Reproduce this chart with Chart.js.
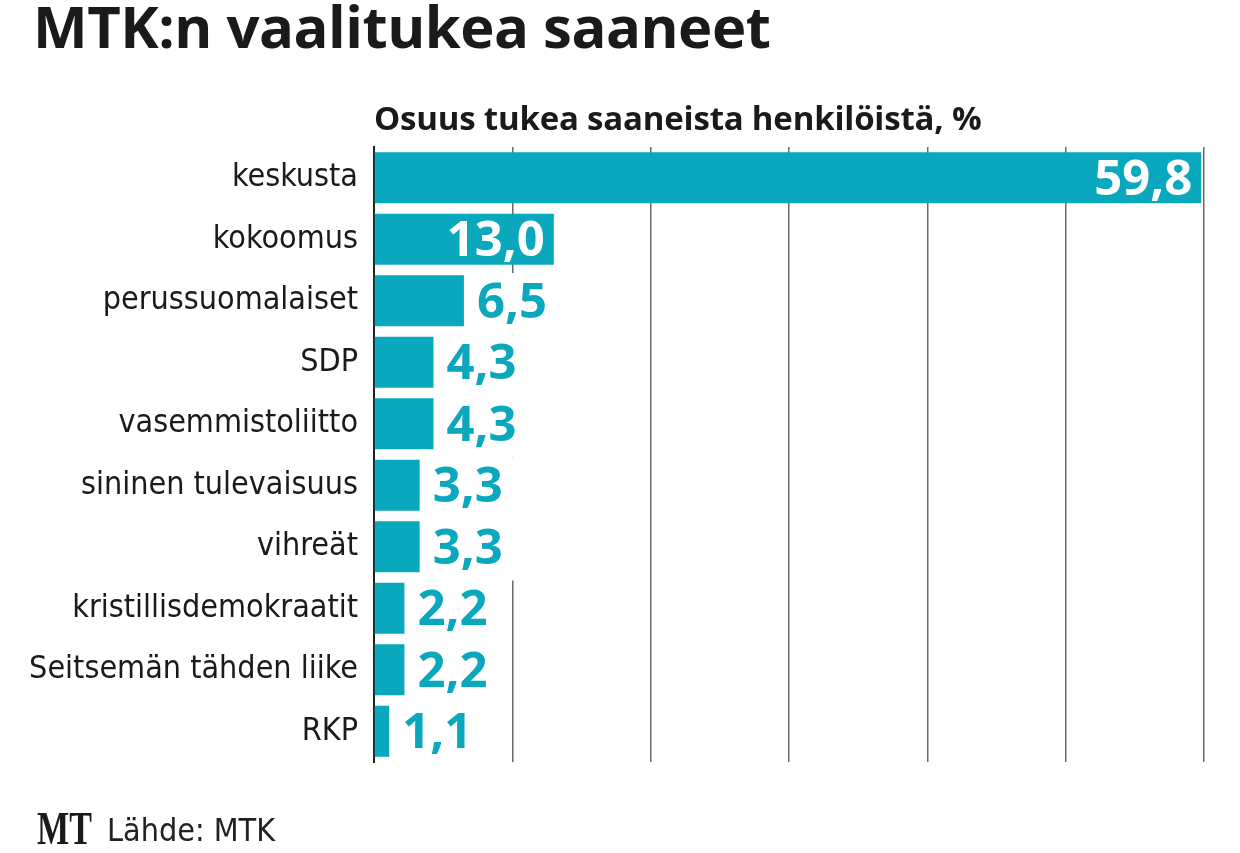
<!DOCTYPE html>
<html lang="fi">
<head>
<meta charset="utf-8">
<title>MTK:n vaalitukea saaneet</title>
<script src="https://cdn.jsdelivr.net/npm/chart.js@4/dist/chart.umd.min.js"></script>
<style>
  html, body { margin: 0; padding: 0; background: #fff; }
  #wrap { position: relative; width: 1240px; height: 853px; overflow: hidden; }
  #chart-box { position: absolute; left: 0; top: 0; width: 1240px; height: 853px; }
  .txt { position: absolute; white-space: nowrap; color: #1a1a1a; }
  #title { left: 33px; top: -3px; font: 700 58px/58px "Open Sans", sans-serif; letter-spacing: -0.5px; }
  #subtitle { left: 374px; top: 101px; font: 700 33px/33px "Open Sans", sans-serif; letter-spacing: -0.2px; }
  #logo { left: 37px; top: 806px; font: 700 46px/46px "Liberation Serif", serif; transform: scaleX(0.74); transform-origin: left top; }
  #source { left: 107px; top: 814px; font: 400 32px/32px "DejaVu Sans Condensed", "Liberation Sans", sans-serif; color: #222; }
</style>
</head>
<body>
<div id="wrap">
  <div id="chart-box"><canvas id="vaalituki-chart"></canvas></div>
  <div class="txt" id="title">MTK:n vaalitukea saaneet</div>
  <div class="txt" id="subtitle">Osuus tukea saaneista henkilöistä, %</div>
  <div class="txt" id="logo">MT</div>
  <div class="txt" id="source">Lähde: MTK</div>
</div>
<script>
// puolueet ja osuudet (%)
const puolueet = [
  "keskusta",
  "kokoomus",
  "perussuomalaiset",
  "SDP",
  "vasemmistoliitto",
  "sininen tulevaisuus",
  "vihreät",
  "kristillisdemokraatit",
  "Seitsemän tähden liike",
  "RKP",
];
const osuudet = [59.8, 13.0, 6.5, 4.3, 4.3, 3.3, 3.3, 2.2, 2.2, 1.1];
const akselinArvot = [0, 10, 20, 30, 40, 50, 60];

const teal = "#0aa8bd";

// value labels: white inside the long bars, teal with a white box beside the short ones
const arvoLabels = {
  id: "arvoLabels",
  afterDatasetsDraw(chart) {
    const ctx = chart.ctx;
    const meta = chart.getDatasetMeta(0);
    const yScale = chart.scales.y;
    const slot = (yScale.bottom - yScale.top) / puolueet.length;
    ctx.save();
    ctx.font = "700 49px 'Open Sans', sans-serif";
    ctx.textBaseline = "alphabetic";
    meta.data.forEach(function (bar, i) {
      const value = osuudet[i];
      const text = value.toFixed(1).replace(".", ",");
      const baseline = bar.y + 17;
      if (value >= 10) {
        ctx.fillStyle = "#fff";
        ctx.textAlign = "right";
        ctx.fillText(text, bar.x - 9, baseline);
      } else {
        const w = ctx.measureText(text).width;
        ctx.fillStyle = "#fff";
        ctx.fillRect(bar.x + 1, bar.y - slot / 2 + 3, w + 32, slot);
        ctx.fillStyle = teal;
        ctx.textAlign = "left";
        ctx.fillText(text, bar.x + 13, baseline);
      }
    });
    ctx.restore();
  },
};

document.addEventListener("DOMContentLoaded", function () {
  const ctx = document.getElementById("vaalituki-chart").getContext("2d");
  new Chart(ctx, {
    type: "bar",
    data: {
      labels: puolueet,
      datasets: [
        {
          label: "Osuus tukea saaneista henkilöistä, %",
          data: osuudet,
          backgroundColor: teal,
          borderWidth: 0,
          barPercentage: 0.83,
          categoryPercentage: 1,
        },
      ],
    },
    options: {
      indexAxis: "y",
      responsive: true,
      maintainAspectRatio: false,
      devicePixelRatio: 1,
      animation: false,
      layout: { padding: { top: 147, bottom: 91, left: 0, right: 36 } },
      plugins: {
        legend: { display: false },
        tooltip: { enabled: false },
      },
      scales: {
        x: {
          min: akselinArvot[0],
          max: akselinArvot[akselinArvot.length - 1],
          afterBuildTicks: function (scale) {
            scale.ticks = akselinArvot.map(function (v) { return { value: v }; });
          },
          ticks: { display: false },
          grid: { color: "#6a6a6a", lineWidth: 1.5, drawTicks: false },
          border: { display: false },
        },
        y: {
          afterFit: function (scale) {
            scale.width = 374;
          },
          ticks: {
            color: "#1a1a1a",
            padding: 16,
            font: { family: "'DejaVu Sans Condensed', 'Liberation Sans', sans-serif", size: 32 },
          },
          grid: { display: false, drawTicks: false },
          border: { display: true, color: "#222", width: 2 },
        },
      },
    },
    plugins: [arvoLabels],
  });
});
</script>
</body>
</html>
